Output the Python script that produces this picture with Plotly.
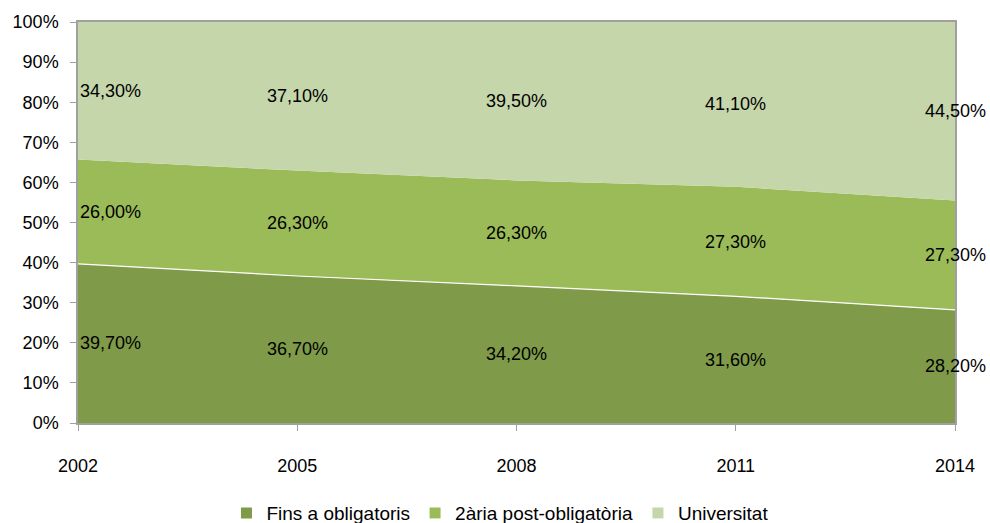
import plotly.graph_objects as go

years = [2002, 2005, 2008, 2011, 2014]
fins = [39.7, 36.7, 34.2, 31.6, 28.2]
secundaria = [26.0, 26.3, 26.3, 27.3, 27.3]
universitat = [34.3, 37.1, 39.5, 41.1, 44.5]
series_names = ["Fins a obligatoris", "2ària post-obligatòria", "Universitat"]
colors = ["#7f9a48", "#9bbb59", "#c5d6ab"]
y_ticks = list(range(0, 101, 10))
y_tick_labels = [f"{v}%" for v in y_ticks]

FONT = "Liberation Sans, Arial, sans-serif"
series = [fins, secundaria, universitat]
line_styles = [dict(color="white", width=1.2), dict(width=0), dict(color="#a0a0a0", width=0)]

fig = go.Figure()
for name, vals, col, ln in zip(series_names, series, colors, line_styles):
    fig.add_trace(go.Scatter(
        x=years, y=vals, name=name, mode="lines", stackgroup="one", groupnorm="percent",
        fillcolor=col, line=ln, showlegend=False, hoverinfo="skip"))
    fig.add_trace(go.Scatter(
        x=[None], y=[None], name=name, mode="markers",
        marker=dict(symbol="square", size=11, color=col), showlegend=True))

# data labels centered in each band
annotations = []
for i, yr in enumerate(years):
    total = sum(s[i] for s in series)
    base = 0.0
    for s in series:
        share = s[i] / total * 100
        mid = base + share / 2
        base += share
        txt = f"{s[i]:.2f}%".replace(".", ",")
        annotations.append(dict(
            x=yr, y=mid, xref="x", yref="y", text=txt, showarrow=False,
            xanchor="left" if i == 0 else "center", yanchor="middle",
            font=dict(family=FONT, size=18, color="black")))

fig.update_layout(
    width=990, height=523,
    margin=dict(l=78, r=35, t=17, b=100),
    paper_bgcolor="white", plot_bgcolor="white",
    font=dict(family=FONT, size=18, color="black"),
    annotations=annotations,
    legend=dict(orientation="h", xref="container", yref="container",
                x=0.505, xanchor="center", y=0.019, yanchor="middle",
                font=dict(family=FONT, size=19, color="black"),
                itemwidth=30, traceorder="normal"),
    xaxis=dict(range=[2002, 2014], tickvals=years, ticktext=[str(y) for y in years],
               showgrid=False, zeroline=False, showline=True, linecolor="#a0a0a0",
               linewidth=1.5, mirror=True, ticks="outside", ticklen=6, tickcolor="#a0a0a0",
               ticklabelstandoff=20, tickfont=dict(size=18)),
    yaxis=dict(range=[0, 100], tickvals=y_ticks, ticktext=y_tick_labels,
               showgrid=False, zeroline=False, showline=True, linecolor="#a0a0a0",
               linewidth=1.5, mirror=True, ticks="outside", ticklen=6, tickcolor="#a0a0a0",
               ticklabelstandoff=8, tickfont=dict(size=18)),
)

fig.write_html("out.html", config={"displayModeBar": False},
               post_script="document.body.style.margin='0';document.body.style.overflow='hidden';")
